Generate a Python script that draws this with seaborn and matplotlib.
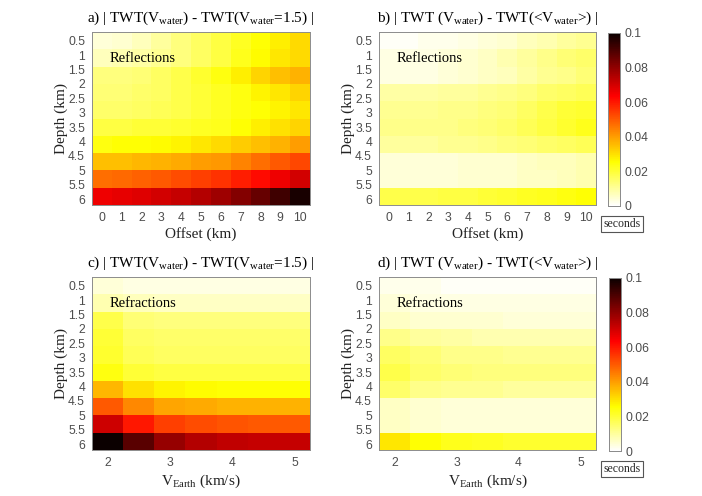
import numpy as np
import seaborn as sns
import matplotlib.pyplot as plt

# depth of the first row + row spacing, tick labels on the axes
depth_rows = [0.5, 1.1, 1.7, 2.3, 2.9, 3.5, 4.1, 4.7, 5.3, 5.9]
depth_ticks = [0.5, 1, 1.5, 2, 2.5, 3, 3.5, 4, 4.5, 5, 5.5, 6]
offsets = [0, 1, 2, 3, 4, 5, 6, 7, 8, 9, 10]
v_earth = [2, 2.5, 3, 3.5, 4, 4.5, 5]
v_ticks = [2, 3, 4, 5]

refl_a = [
    [.004, .005, .007, .010, .013, .016, .019, .022, .025, .028, .031],
    [.007, .008, .009, .011, .013, .016, .019, .023, .026, .029, .031],
    [.013, .013, .014, .016, .018, .021, .024, .028, .032, .035, .037],
    [.014, .014, .015, .016, .018, .020, .022, .024, .027, .029, .032],
    [.015, .015, .016, .017, .018, .020, .022, .024, .025, .027, .029],
    [.019, .019, .020, .020, .021, .022, .023, .025, .028, .030, .032],
    [.024, .025, .025, .026, .027, .029, .031, .033, .035, .037, .040],
    [.035, .035, .036, .037, .038, .040, .041, .044, .047, .050, .053],
    [.047, .048, .049, .050, .052, .054, .056, .059, .062, .066, .070],
    [.066, .067, .068, .070, .072, .075, .078, .082, .086, .092, .098],
]
refl_b = [
    [.001, .001, .002, .002, .003, .004, .005, .007, .008, .010, .011],
    [.003, .003, .003, .004, .005, .006, .008, .010, .012, .014, .015],
    [.003, .003, .003, .004, .005, .006, .007, .009, .011, .012, .014],
    [.009, .009, .009, .010, .010, .011, .012, .013, .015, .016, .017],
    [.011, .011, .011, .012, .012, .013, .014, .016, .018, .020, .021],
    [.012, .012, .012, .012, .013, .014, .015, .017, .019, .021, .023],
    [.010, .010, .010, .011, .011, .012, .013, .014, .015, .016, .017],
    [.004, .004, .004, .004, .005, .005, .005, .006, .007, .007, .008],
    [.004, .004, .004, .004, .005, .005, .005, .006, .006, .007, .008],
    [.018, .018, .018, .019, .019, .020, .021, .022, .023, .024, .025],
]
refr_c = [
    [.004, .003, .003, .003, .003, .003, .003],
    [.008, .007, .006, .006, .006, .006, .006],
    [.018, .014, .013, .013, .013, .013, .013],
    [.020, .016, .015, .015, .015, .015, .015],
    [.021, .017, .016, .016, .016, .016, .016],
    [.024, .020, .019, .019, .019, .019, .019],
    [.036, .030, .027, .026, .025, .025, .025],
    [.050, .043, .039, .038, .037, .037, .037],
    [.071, .060, .054, .052, .051, .050, .050],
    [.100, .088, .079, .075, .073, .072, .072],
]
refr_d = [
    [.002, .002, .001, .001, .001, .001, .001],
    [.004, .003, .003, .003, .003, .003, .003],
    [.006, .005, .005, .005, .004, .004, .004],
    [.012, .010, .009, .008, .008, .008, .008],
    [.016, .014, .012, .012, .011, .011, .011],
    [.018, .015, .014, .013, .013, .013, .013],
    [.015, .012, .011, .011, .010, .010, .010],
    [.006, .005, .004, .004, .004, .004, .004],
    [.006, .005, .004, .004, .004, .004, .004],
    [.029, .025, .023, .022, .021, .021, .021],
]

sns.set_style('white')
plt.rcParams['font.family'] = ['Liberation Sans', 'DejaVu Sans']
plt.rcParams['mathtext.fontset'] = 'custom'
plt.rcParams['mathtext.rm'] = 'Liberation Serif'
plt.rcParams['mathtext.it'] = 'Liberation Serif:italic'

W, H = 702, 496
SERIF = 'Liberation Serif'
GREY = '#8c8c8c'
TICK = '#4d4d4d'


def box(x0, y0, x1, y1):
    # pixel box (from the top left) to figure coordinates
    return [x0 / W, 1 - y1 / H, (x1 - x0) / W, (y1 - y0) / H]


def panel(fig, rect, values, columns, col_ticks, title, note, xlabel, cbar_rect=None):
    ax = fig.add_axes(box(*rect))
    cax = fig.add_axes(box(*cbar_rect)) if cbar_rect else None
    sns.heatmap(np.array(values), ax=ax, cmap='hot_r', vmin=0, vmax=0.1,
                cbar=cax is not None, cbar_ax=cax, xticklabels=False, yticklabels=False)

    # rows are spaced 0.6 km while the labels go in 0.5 km steps
    step = depth_rows[1] - depth_rows[0]
    ax.set_yticks([(d - depth_rows[0]) / step + 0.5 for d in depth_ticks])
    ax.set_yticklabels([f'{d:g}' for d in depth_ticks])
    col_step = columns[1] - columns[0]
    ax.set_xticks([(c - columns[0]) / col_step + 0.5 for c in col_ticks])
    ax.set_xticklabels([f'{c:g}' for c in col_ticks])

    ax.tick_params(direction='in', length=2, width=0.6, color=GREY, labelcolor=TICK,
                   labelsize=8.7, top=True, right=True, left=True, bottom=True, pad=5)
    ax.tick_params(axis='y', labelrotation=0)
    for s in ax.spines.values():
        s.set_visible(True)
        s.set_color(GREY)
        s.set_linewidth(0.7)

    ax.set_ylabel('Depth (km)', family=SERIF, fontsize=11, color='#222222', labelpad=0)
    ax.set_xlabel(xlabel, family=SERIF, fontsize=11, color='#222222', labelpad=2.5)
    ax.set_title(title, family=SERIF, fontsize=11, color='black', pad=7)
    ax.text(0.08, 0.827, note, transform=ax.transAxes, family=SERIF, fontsize=10.5, color='black')

    if cax is not None:
        cax.set_yticks([0, 0.02, 0.04, 0.06, 0.08, 0.1])
        cax.set_yticklabels(['0', '0.02', '0.04', '0.06', '0.08', '0.1'])
        cax.tick_params(length=0, labelsize=8.7, labelcolor=TICK, pad=3)
        for s in cax.spines.values():
            s.set_visible(True)
            s.set_color(GREY)
            s.set_linewidth(0.7)
        fig.text(622 / W, 1 - (cbar_rect[3] + 18) / H, 'seconds',
                 family=SERIF, fontsize=8.5, ha='center', va='center',
                 bbox=dict(boxstyle='square,pad=0.2', fc='white', ec='#555555', lw=0.8))


fig = plt.figure(figsize=(W / 100, H / 100), dpi=100)

title_a = r'a) | TWT(V$_{\mathrm{water}}$) - TWT(V$_{\mathrm{water}}$=1.5) |'
title_b = r'b) | TWT (V$_{\mathrm{water}}$) - TWT(<V$_{\mathrm{water}}$>) |'
title_c = r'c) | TWT(V$_{\mathrm{water}}$) - TWT(V$_{\mathrm{water}}$=1.5) |'
title_d = r'd) | TWT (V$_{\mathrm{water}}$) - TWT(<V$_{\mathrm{water}}$>) |'
v_label = r'V$_{\mathrm{Earth}}$ (km/s)'

panel(fig, (92, 32, 310, 205), refl_a, offsets, offsets, title_a, 'Reflections', 'Offset (km)')
panel(fig, (379, 32, 596, 205), refl_b, offsets, offsets, title_b, 'Reflections', 'Offset (km)',
      cbar_rect=(608, 33, 620, 206))
panel(fig, (92, 277, 310, 450), refr_c, v_earth, v_ticks, title_c, 'Refractions', v_label)
panel(fig, (379, 277, 596, 450), refr_d, v_earth, v_ticks, title_d, 'Refractions', v_label,
      cbar_rect=(609, 278, 621, 451))

fig.savefig('out.png', dpi=100)
